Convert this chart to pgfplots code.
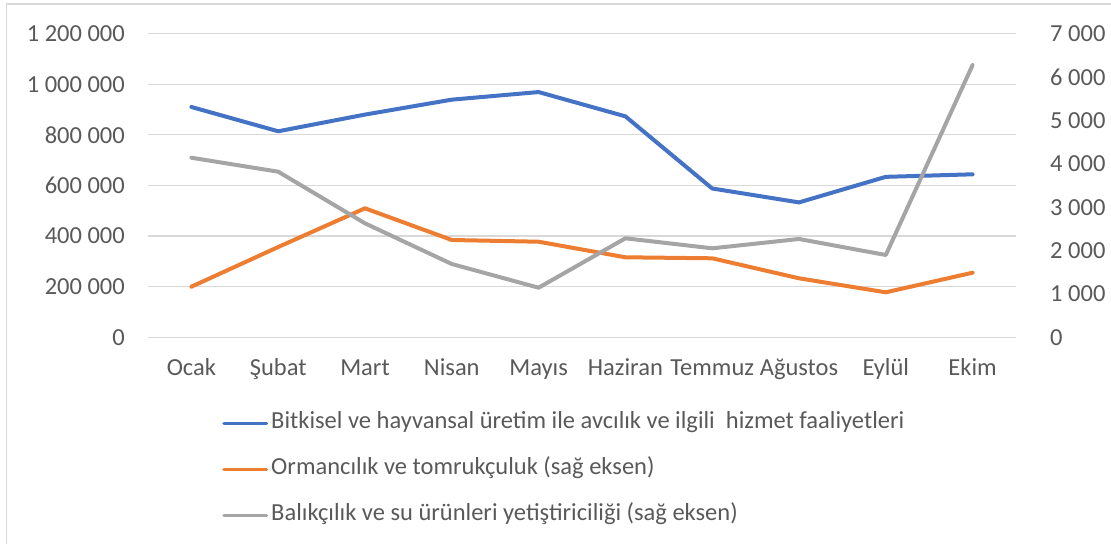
\documentclass[border=0pt]{standalone}
\usepackage{fontspec}
\setmainfont{Carlito}
\usepackage{pgfplots}
\pgfplotsset{compat=1.18}
\definecolor{cblue}{HTML}{4472C4}
\definecolor{corange}{HTML}{ED7D31}
\definecolor{cgray}{HTML}{A5A5A5}
\definecolor{ctext}{HTML}{595959}
\definecolor{cgrid}{HTML}{D9D9D9}
\pgfplotsset{
  chartbase/.style={
    at={(148pt,206.7pt)}, anchor=south west, scale only axis,
    width=868pt, height=303.7pt,
    xmin=-0.5, xmax=9.5,
    axis line style={draw=none}, major tick length=0pt,
    scaled y ticks=false, scaled x ticks=false,
    ticklabel style={text=ctext, font=\fontsize{24.5}{29}\selectfont},
  },
  serie/.style={line width=4pt, line join=round, line cap=round, no markers},
}
\begin{document}
\begin{tikzpicture}[x=1pt,y=1pt]
\useasboundingbox (0,0) rectangle (1111,544);
\draw[cgrid, line width=1.5pt] (6.5,0) -- (6.5,540) -- (1111,540);
\begin{axis}[chartbase,
  ymin=0, ymax=1200000,
  xtick={0,...,9},
  xticklabels={Ocak,Şubat,Mart,Nisan,Mayıs,Haziran,Temmuz,Ağustos,Eylül,Ekim},
  ytick={0,200000,400000,600000,800000,1000000,1200000},
  yticklabels={0,200 000,400 000,600 000,800 000,1 000 000,1 200 000},
  ymajorgrids, grid style={cgrid, line width=1.3pt},
  yticklabel style={anchor=east, inner sep=0pt, xshift=-23pt},
  xticklabel style={anchor=base, inner sep=0pt, yshift=-38.5pt},
]
\addplot[serie, cblue] coordinates {
 (0,910000) (1,814000) (2,880000) (3,939000) (4,969000)
 (5,873000) (6,588000) (7,533000) (8,634000) (9,644000)};
\end{axis}
\begin{axis}[chartbase,
  ymin=0, ymax=7000,
  axis x line=none,
  axis y line*=right,
  ytick={0,1000,2000,3000,4000,5000,6000,7000},
  yticklabels={0,1 000,2 000,3 000,4 000,5 000,6 000,7 000},
  yticklabel style={anchor=west, inner sep=0pt, xshift=34pt},
  legend style={at={(0.0853,-0.245)}, anchor=north west, draw=none, fill=none,
    inner sep=0pt, row sep=23pt, column sep=3pt,
    nodes={inner sep=0pt, text=ctext, font=\fontsize{24.5}{29}\selectfont, text height=17pt, text depth=6pt}},
  legend cell align=left,
  legend image code/.code={\draw[#1, line width=3.5pt, line cap=round] (1.75pt,0pt) -- (44.25pt,0pt);},
]
\addlegendimage{serie, cblue}
\addlegendentry{Bitkisel ve hayvansal üretim ile avcılık ve ilgili\ \ hizmet faaliyetleri}
\addplot[serie, corange] coordinates {
 (0,1166) (1,2081) (2,2973) (3,2243) (4,2203)
 (5,1844) (6,1821) (7,1360) (8,1037) (9,1489)};
\addlegendentry{Ormancılık ve tomrukçuluk (sağ eksen)}
\addplot[serie, cgray] coordinates {
 (0,4139) (1,3817) (2,2627) (3,1689) (4,1143)
 (5,2282) (6,2051) (7,2266) (8,1897) (9,6276)};
\addlegendentry{Balıkçılık ve su ürünleri yetiştiriciliği (sağ eksen)}
\end{axis}
\end{tikzpicture}
\end{document}
